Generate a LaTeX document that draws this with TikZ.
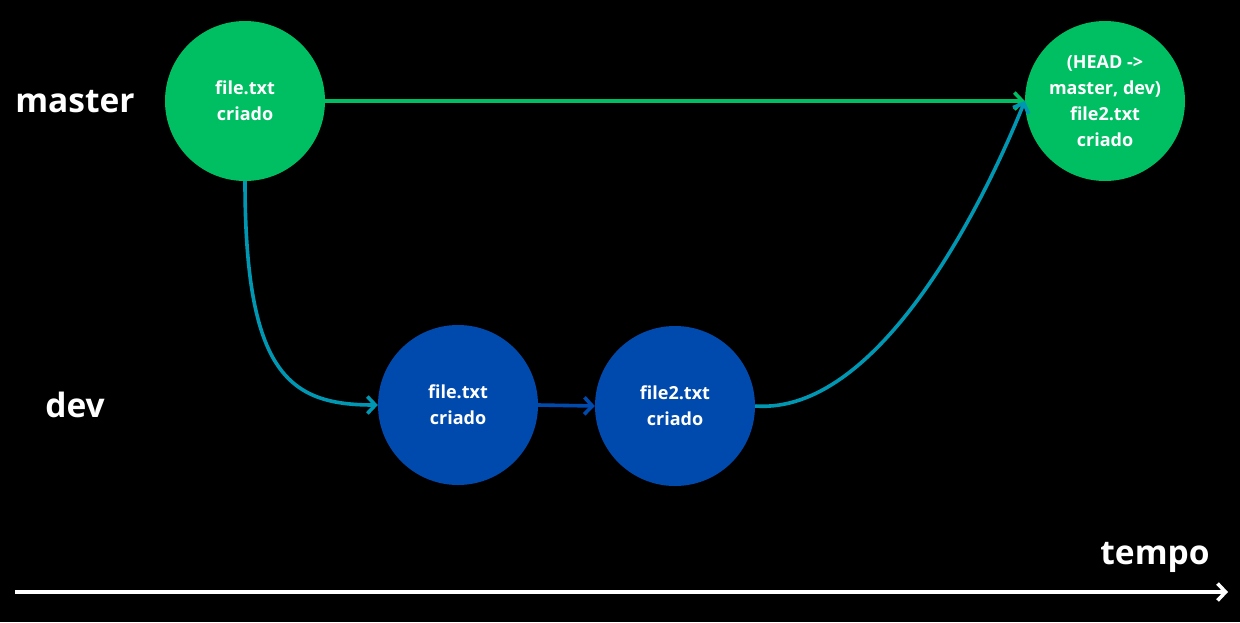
\documentclass[tikz,border=0pt]{standalone}
\usepackage{fontspec}
\setmainfont{Open Sans}
\usetikzlibrary{arrows.meta}
\definecolor{commitgreen}{HTML}{00BF63}
\definecolor{commitblue}{HTML}{004AAD}
\definecolor{linkteal}{HTML}{0097B2}

\begin{document}
\begin{tikzpicture}[x=1pt,y=-1pt,
	commit/.style={circle,minimum size=160pt,inner sep=0pt,text=white,align=center,
		font=\fontsize{18}{26}\selectfont\bfseries},
	branchlabel/.style={text=white,font=\fontsize{33.5}{36}\selectfont\bfseries},
	link/.style={line width=3.6pt,-{Straight Barb[length=8pt,width=17pt]}}]
	%background and bounds
	\fill[black] (0,0) rectangle (1240,622);
	\useasboundingbox (0,0) rectangle (1240,622);

	%branch labels
	\node[branchlabel] (lmaster) at (75,102) {master};
	\node[branchlabel] (ldev) at (75,405) {dev};
	\node[branchlabel] (ltempo) at (1155,557) {tempo};

	%commits
	\node[commit,fill=commitgreen] (m1) at (245,101) {file.txt\\criado};
	\node[commit,fill=commitgreen] (m2) at (1105,101) {(HEAD ->\\master, dev)\\file2.txt\\criado};
	\node[commit,fill=commitblue] (d1) at (458,405) {file.txt\\criado};
	\node[commit,fill=commitblue] (d2) at (675,406) {file2.txt\\criado};

	%connections
	\draw[link,commitgreen] (m1.east) -- (m2.west);
	\draw[link,linkteal] (m1.south) .. controls (245,375) and (290,405) .. (d1.west);
	\draw[link,commitblue] (d1.east) -- (d2.west);
	\draw[link,linkteal] (d2.east) .. controls (880,415) and (985,200) .. (m2.west);

	%time axis
	\coordinate (t0) at (15,592);
	\coordinate (t1) at (1228,592);
	\draw[link,white] (t0) -- (t1);
\end{tikzpicture}
\end{document}
